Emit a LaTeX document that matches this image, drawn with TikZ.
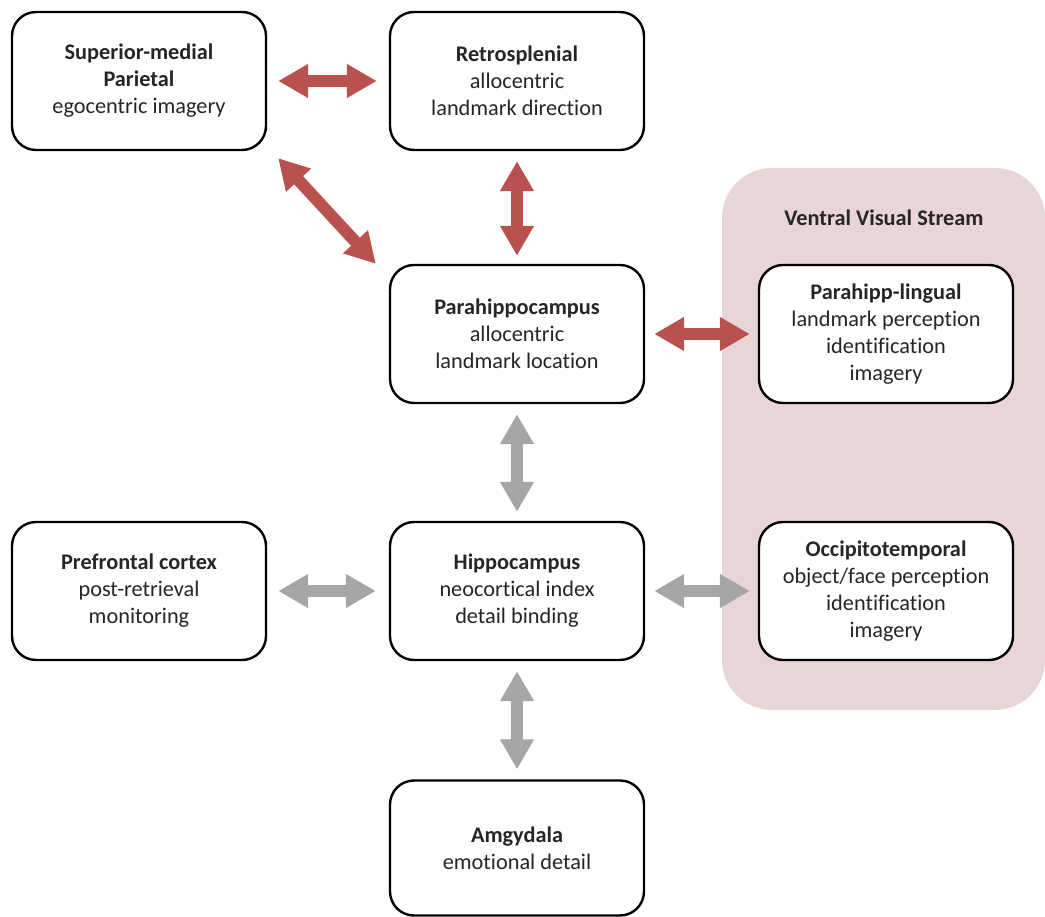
\documentclass[tikz,border=0pt]{standalone}
\usepackage{fontspec}
\setmainfont{Carlito}[Ligatures=NoCommon]
\usetikzlibrary{arrows.meta,calc}
\definecolor{arrred}{HTML}{B9524F}
\definecolor{arrgrey}{HTML}{A6A6A6}
\definecolor{vfill}{HTML}{E8D5D6}
\definecolor{txt}{HTML}{262626}
\tikzset{
  box/.style={draw=black, line width=2.4pt, rounded corners=24pt, fill=white,
    minimum width=254pt, minimum height=138pt, align=center, inner sep=0pt,
    text=txt, font=\fontsize{22.3}{27}\selectfont},
  redarr/.style={draw=arrred, line width=12pt, {Triangle[length=30pt,width=32pt]}-{Triangle[length=30pt,width=32pt]}},
  greyarr/.style={draw=arrgrey, line width=12pt, {Triangle[length=30pt,width=32pt]}-{Triangle[length=30pt,width=32pt]}},
}
\begin{document}
\begin{tikzpicture}[x=1pt,y=-1pt]
\useasboundingbox (0,0) rectangle (1045,917);
\fill[vfill, rounded corners=50pt] (722,168) rectangle (1045,710);
\node[text=txt, font=\fontsize{22.3}{27}\selectfont\bfseries] (vtitle) at (884,218) {Ventral Visual Stream};
\node[box] (smp) at (139,81) {\textbf{Superior-medial}\\\textbf{Parietal}\\egocentric imagery};
\node[box] (retro) at (517,81) {\textbf{Retrosplenial}\\allocentric\\landmark direction};
\node[box] (ph) at (517,334) {\textbf{Parahippocampus}\\allocentric\\landmark location};
\node[box] (pl) at (886,334) {\textbf{Parahipp-lingual}\\landmark perception\\identification\\imagery};
\node[box] (pf) at (139,591) {\textbf{Prefrontal cortex}\\post-retrieval\\monitoring};
\node[box] (hc) at (517,591) {\textbf{Hippocampus}\\neocortical index\\detail binding};
\node[box] (ot) at (886,591) {\textbf{Occipitotemporal}\\object/face perception\\identification\\imagery};
\node[box, minimum height=135pt] (am) at (517,848) {\textbf{Amgydala}\\emotional detail};
\draw[redarr] ($(smp.east)+(11,0)$) -- ($(retro.west)+(-12,0)$);
\draw[redarr] ($(smp.south east)+(11,7)$) -- ($(ph.north west)+(-13,0)$);
\draw[redarr] ($(retro.south)+(0,10)$) -- ($(ph.north)+(0,-8)$);
\draw[redarr] ($(ph.east)+(9,0)$) -- ($(pl.west)+(-8,0)$);
\draw[greyarr] ($(ph.south)+(0,10)$) -- ($(hc.north)+(0,-9)$);
\draw[greyarr] ($(pf.east)+(11,0)$) -- ($(hc.west)+(-13,0)$);
\draw[greyarr] ($(hc.east)+(9,0)$) -- ($(ot.west)+(-8,0)$);
\draw[greyarr] ($(hc.south)+(0,10)$) -- ($(am.north)+(0,-10)$);
\end{tikzpicture}
\end{document}
